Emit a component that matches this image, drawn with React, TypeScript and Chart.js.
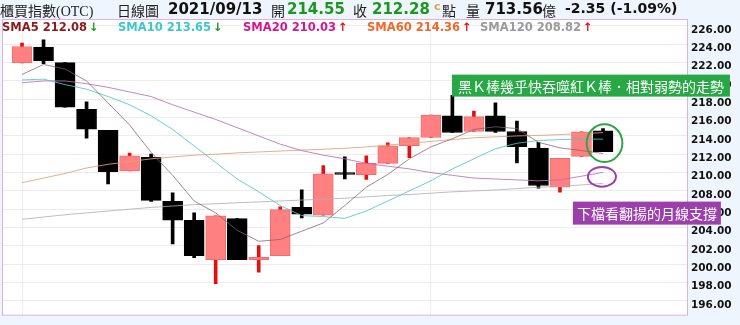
import React, { useEffect, useRef } from "react";
import { Chart, registerables } from "chart.js";
Chart.register(...registerables);

// ---- data ----
const opens = [221.96, 223.69, 222.0, 216.9, 214.62, 210.18, 211.66, 206.86, 204.8, 200.5, 204.98, 200.5, 200.94, 206.2, 205.34, 210.0, 209.78, 211.01, 212.93, 213.83, 216.18, 214.48, 216.18, 214.48, 212.67, 208.41, 211.77, 214.55];
const highs = [224.12, 224.48, 222.0, 217.73, 214.62, 212.13, 212.02, 207.8, 205.6, 205.27, 204.98, 202.02, 206.25, 208.12, 210.76, 211.73, 211.84, 213.25, 213.83, 216.28, 218.42, 216.72, 217.6, 215.63, 213.29, 211.55, 214.44, 214.8];
const lows = [221.96, 221.88, 217.15, 213.76, 208.77, 210.18, 206.86, 202.2, 200.72, 197.87, 200.5, 199.13, 200.94, 205.06, 205.34, 209.3, 209.24, 211.01, 211.63, 213.83, 214.37, 214.48, 214.37, 211.05, 208.3, 207.87, 211.77, 212.28];
const closes = [223.76, 222.21, 217.15, 214.73, 210.1, 211.84, 206.97, 204.8, 200.94, 205.27, 200.5, 200.75, 205.96, 205.45, 209.86, 209.8, 211.01, 212.93, 213.83, 216.28, 214.37, 216.1, 214.48, 212.82, 208.59, 211.55, 214.44, 212.28];

const sma5 = [220.7, 221.8, 221.3, 220.0, 217.6, 215.2, 212.2, 209.7, 206.9, 205.6, 203.7, 202.5, 202.7, 203.6, 204.5, 206.4, 208.4, 209.8, 211.5, 212.8, 213.7, 214.7, 215.0, 214.8, 213.3, 212.7, 212.4, 212.08];
const sma10 = [220.1, 220.2, 219.6, 219.1, 218.3, 217.4, 216.2, 214.7, 212.9, 211.1, 209.3, 207.9, 206.4, 205.3, 205.2, 205.0, 205.8, 206.9, 208.0, 209.1, 210.4, 211.5, 212.6, 213.2, 213.5, 213.6, 213.65, 213.65];
const sma20 = [219.8, 220.0, 220.0, 219.7, 219.3, 218.8, 218.3, 217.4, 216.6, 215.8, 214.9, 214.0, 213.1, 212.4, 211.9, 211.5, 211.0, 210.7, 210.4, 210.0, 209.7, 209.4, 209.3, 209.2, 209.1, 209.2, 209.6, 210.03];
const sma60 = [208.9, 209.4, 209.9, 210.5, 210.9, 211.2, 211.5, 211.7, 211.9, 212.0, 212.15, 212.25, 212.35, 212.45, 212.55, 212.65, 212.8, 213.0, 213.2, 213.4, 213.6, 213.8, 213.9, 214.0, 214.05, 214.15, 214.25, 214.36];
const sma120 = [204.9, 205.15, 205.4, 205.6, 205.8, 206.0, 206.2, 206.35, 206.5, 206.6, 206.7, 206.8, 206.9, 207.0, 207.1, 207.2, 207.35, 207.5, 207.6, 207.75, 207.9, 208.0, 208.1, 208.25, 208.4, 208.5, 208.65, 208.82];

const yTicks = [196, 198, 200, 202, 204, 206, 208, 210, 212, 214, 216, 218, 220, 222, 224, 226];
const monthLines = [0, 19];

const noteBoxes = [
  { text: "黑Ｋ棒幾乎快吞噬紅Ｋ棒．相對弱勢的走勢", x: 19.98, y: 220.69, color: "#27a844", padX: 6, h: 22 },
  { text: "下檔看翻揚的月線支撐", x: 25.6, y: 206.83, color: "#9b40ab", padX: 4, h: 23 },
];
const noteRings = [
  { x: 27.07, y: 213.22, rx: 0.83, ry: 2.06, color: "#2ea646" },
  { x: 26.95, y: 209.54, rx: 0.65, ry: 1.08, color: "#9b40ab" },
];

const header1 = [
  { t: "櫃買指數(OTC)", l: 0, f: '14px "Liberation Serif","Noto Sans CJK TC"', c: "#222" },
  { t: "日線圖", l: 117, f: '14px "Liberation Serif","Noto Sans CJK TC"', c: "#222" },
  { t: "2021/09/13", l: 168, f: 'bold 15px "DejaVu Sans"', c: "#111" },
  { t: "開", l: 271, f: '14px "Noto Sans CJK TC"', c: "#222" },
  { t: "214.55", l: 287, f: 'bold 15px "DejaVu Sans"', c: "#1e961e" },
  { t: "收", l: 353, f: '14px "Noto Sans CJK TC"', c: "#222" },
  { t: "212.28", l: 372, f: 'bold 15px "DejaVu Sans"', c: "#1e961e" },
  { t: "c", l: 434, f: 'bold 11px "DejaVu Sans"', c: "#e0a24a" },
  { t: "點", l: 442, f: '14px "Noto Sans CJK TC"', c: "#222" },
  { t: "量", l: 466, f: '14px "Noto Sans CJK TC"', c: "#222" },
  { t: "713.56", l: 485, f: 'bold 15px "DejaVu Sans"', c: "#111" },
  { t: "億", l: 542, f: '14px "Noto Sans CJK TC"', c: "#222" },
  { t: "-2.35 (-1.09%)", l: 565, f: 'bold 14px "DejaVu Sans"', c: "#111" },
];
const legendItems = [
  { t: "SMA5 212.08", l: 2, c: "#8b1a1a", up: false },
  { t: "SMA10 213.65", l: 118, c: "#3cc9c9", up: false },
  { t: "SMA20 210.03", l: 243, c: "#d6168a", up: true },
  { t: "SMA60 214.36", l: 367, c: "#ef6a2a", up: true },
  { t: "SMA120 208.82", l: 480, c: "#9a9a9a", up: true },
];

const frameAndNotes = {
  id: "frameAndNotes",
  beforeDraw(chart: any) {
    const { ctx, chartArea: a, width, height } = chart;
    ctx.save();
    ctx.fillStyle = "#eef5fc";
    ctx.fillRect(0, 0, width, height);
    ctx.fillStyle = "#ffffff";
    ctx.fillRect(a.left, a.top, a.right - a.left, a.bottom - a.top);
    ctx.restore();
  },
  afterDraw(chart: any) {
    const { ctx, chartArea: a } = chart;
    const xs = chart.scales.x;
    const ys = chart.scales.y;
    ctx.save();
    ctx.strokeStyle = "#d9b2e2";
    ctx.lineWidth = 1;
    ctx.strokeRect(a.left + 0.5, a.top + 0.5, a.right - a.left - 1, a.bottom - a.top - 1);

    for (const r of noteRings) {
      const cx = xs.getPixelForValue(r.x);
      const cy = ys.getPixelForValue(r.y);
      const rx = Math.abs(xs.getPixelForValue(r.x + r.rx) - cx);
      const ry = Math.abs(ys.getPixelForValue(r.y + r.ry) - cy);
      ctx.beginPath();
      ctx.ellipse(cx, cy, rx, ry, 0, 0, Math.PI * 2);
      ctx.strokeStyle = r.color;
      ctx.lineWidth = 2;
      ctx.stroke();
    }
    for (const n of noteBoxes) {
      const left = xs.getPixelForValue(n.x);
      const top = ys.getPixelForValue(n.y);
      ctx.font = '14px "Noto Sans CJK TC"';
      const w = ctx.measureText(n.text).width + n.padX * 2;
      ctx.fillStyle = n.color;
      ctx.fillRect(left, top, w, n.h);
      ctx.fillStyle = "#ffffff";
      ctx.textBaseline = "middle";
      ctx.textAlign = "left";
      ctx.fillText(n.text, left + n.padX, top + n.h / 2 + 1);
    }
    ctx.restore();
  },
};

export default function App() {
  const ref = useRef<HTMLCanvasElement | null>(null);
  useEffect(() => {
    if (!ref.current) return;
    const idx = closes.map((_, i) => i);
    const up = idx.map((i) => closes[i] >= opens[i]);
    const lineDs = (data: number[], color: string) => ({
      type: "line" as const,
      data: data.map((v, i) => ({ x: i, y: v })),
      borderColor: color,
      borderWidth: 1,
      pointRadius: 0,
      tension: 0,
      fill: false,
      order: 1,
    });
    const chart = new Chart(ref.current, {
      type: "bar",
      data: {
        datasets: [
          {
            type: "bar",
            data: idx.map((i) => ({ x: i, y: [lows[i], highs[i]] })) as any,
            backgroundColor: idx.map((i) => (up[i] ? "rgb(228,16,16)" : "#000")),
            barThickness: 3,
            grouped: false,
            order: 3,
          } as any,
          {
            type: "bar",
            data: idx.map((i) => ({ x: i, y: [opens[i], closes[i]] })) as any,
            backgroundColor: idx.map((i) => (up[i] ? "rgb(255,128,128)" : "#000")),
            borderColor: idx.map((i) => (up[i] ? "rgb(240,108,108)" : "#000")),
            borderWidth: 1,
            borderSkipped: false,
            barThickness: 20,
            grouped: false,
            order: 2,
          } as any,
          lineDs(sma5, "rgba(135,95,105,0.75)"),
          lineDs(sma10, "rgba(80,200,190,0.85)"),
          lineDs(sma20, "rgba(190,110,170,0.85)"),
          lineDs(sma60, "rgba(226,160,120,0.85)"),
          lineDs(sma120, "rgba(180,170,180,0.8)"),
        ],
      },
      options: {
        animation: false,
        responsive: false,
        maintainAspectRatio: false,
        layout: { padding: { left: 2, top: 19, bottom: 7, right: 0 } },
        plugins: { legend: { display: false }, tooltip: { enabled: false } },
        scales: {
          x: {
            type: "linear",
            min: -0.93,
            max: 30.95,
            offset: false,
            ticks: { display: false },
            grid: { color: "#ededed", drawTicks: false, offset: false },
            border: { display: false },
            afterBuildTicks: (a: any) => {
              a.ticks = monthLines.map((v) => ({ value: v }));
            },
            afterFit: (s: any) => {
              s.height = 0;
            },
          },
          y: {
            type: "linear",
            position: "right",
            min: 194.38,
            max: 226.76,
            afterBuildTicks: (a: any) => {
              a.ticks = yTicks.map((v) => ({ value: v }));
            },
            afterFit: (s: any) => {
              s.width = 52;
            },
            ticks: {
              callback: (v: any) => Number(v).toFixed(2),
              font: { family: "DejaVu Sans", weight: "bold", size: 10.5 },
              color: "#111",
              padding: 3,
              labelOffset: 4,
            },
            grid: { color: "#ececec", drawTicks: false },
            border: { display: false },
          },
        },
      },
      plugins: [frameAndNotes],
    } as any);
    return () => chart.destroy();
  }, []);

  return (
    <div style={{ position: "fixed", left: 0, top: 0, width: 740, height: 325, overflow: "hidden", background: "#eef5fc" }}>
      <canvas ref={ref} width={740} height={325} style={{ display: "block", position: "absolute", left: 0, top: 0 }} />
      {header1.map((h, i) => (
        <span
          key={"h" + i}
          style={{ position: "absolute", left: h.l, top: 0, lineHeight: "20px", font: h.f, color: h.c, whiteSpace: "nowrap" }}
        >
          {h.t}
        </span>
      ))}
      {legendItems.map((s, i) => (
        <span
          key={"s" + i}
          style={{ position: "absolute", left: s.l, top: 20, lineHeight: "14px", font: 'bold 11.5px "DejaVu Sans"', color: s.c, whiteSpace: "nowrap" }}
        >
          {s.t}
          <span style={{ color: s.up ? "#e8120c" : "#1e961e", marginLeft: 2 }}>{s.up ? "↑" : "↓"}</span>
        </span>
      ))}
    </div>
  );
}
